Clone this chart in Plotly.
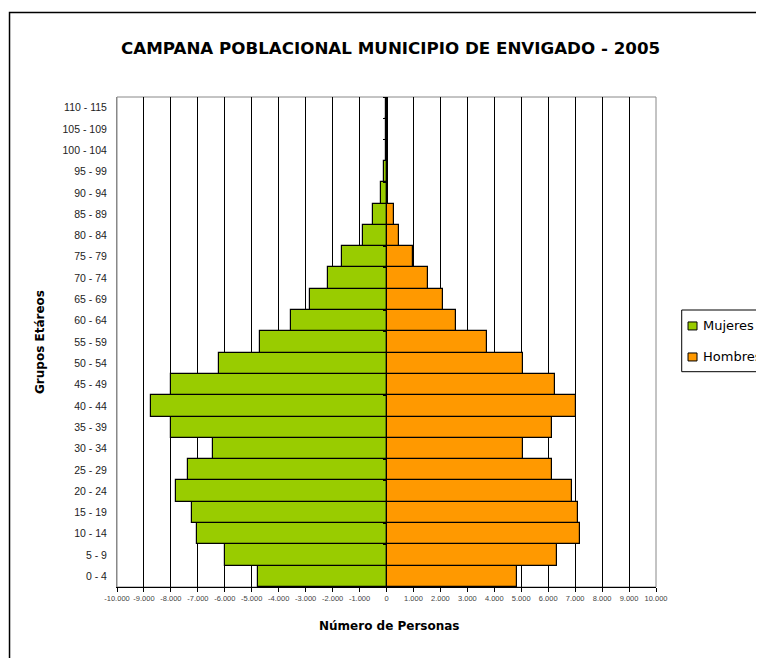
import plotly.graph_objects as go

grupos = ["0 - 4", "5 - 9", "10 - 14", "15 - 19", "20 - 24", "25 - 29", "30 - 34",
          "35 - 39", "40 - 44", "45 - 49", "50 - 54", "55 - 59", "60 - 64", "65 - 69",
          "70 - 74", "75 - 79", "80 - 84", "85 - 89", "90 - 94", "95 - 99",
          "100 - 104", "105 - 109", "110 - 115"]

mujeres = [4760, 5990, 7050, 7230, 7800, 7380, 6430, 8000, 8750, 8000, 6230, 4710,
           3550, 2830, 2170, 1640, 890, 505, 190, 100, 15, 5, 2]
hombres = [4860, 6320, 7170, 7090, 6900, 6140, 5060, 6140, 7040, 6270, 5060, 3720,
           2590, 2110, 1540, 1000, 480, 260, 60, 30, 5, 2, 1]

tick_vals = list(range(-10000, 10001, 1000))
tick_text = ["-10.000", "-9.000", "-8.000", "-7.000", "-6.000", "-5.000", "-4.000",
             "-3.000", "-2.000", "-1.000", "0", "1.000", "2.000", "3.000", "4.000",
             "5.000", "6.000", "7.000", "8.000", "9.000", "10.000"]

VERDE = "#99CC00"
NARANJA = "#FF9900"

fig = go.Figure()
fig.add_trace(go.Bar(
    y=grupos, x=[-v for v in mujeres], orientation="h", name="Mujeres",
    marker=dict(color=VERDE, line=dict(color="black", width=1.2)),
    yaxis="y", showlegend=False))
fig.add_trace(go.Bar(
    y=grupos, x=hombres, orientation="h", name="Hombres",
    marker=dict(color=NARANJA, line=dict(color="black", width=1.2)),
    yaxis="y2", showlegend=False))

fig.update_layout(
    width=756, height=650,
    margin=dict(l=109, r=108, t=89, b=71),
    paper_bgcolor="white", plot_bgcolor="white",
    bargap=0,
    xaxis=dict(range=[-10000, 10000], tickvals=tick_vals, ticktext=tick_text,
               showgrid=True, gridcolor="#000000", gridwidth=1,
               zeroline=True, zerolinecolor="black", zerolinewidth=2,
               showline=True, linecolor="black", linewidth=1.2,
               ticks="outside", ticklen=4, tickcolor="black",
               tickfont=dict(family="Liberation Sans", size=7.5, color="#444444")),
    yaxis=dict(categoryorder="array", categoryarray=grupos, range=[-0.5, 22.5],
               showgrid=False, zeroline=False, showline=True, linecolor="#888888",
               linewidth=1, ticks="", ticklabelstandoff=7,
               tickfont=dict(family="Liberation Sans", size=10.5, color="#222222")),
    yaxis2=dict(overlaying="y", anchor="free", position=0.5, side="left",
                categoryorder="array", categoryarray=grupos, range=[-0.5, 22.5],
                showgrid=False, zeroline=False, showline=False,
                ticks="outside", ticklen=4, tickcolor="black", tickson="boundaries",
                showticklabels=False),
    shapes=[
        dict(type="rect", xref="paper", yref="paper", x0=0, y0=0, x1=1, y1=1,
             line=dict(color="#888888", width=1), layer="below"),
        dict(type="rect", xref="paper", yref="paper", x0=-0.1994, y0=-0.2, x1=1.25, y1=1.1724,
             line=dict(color="black", width=1.5)),
        dict(type="rect", xref="paper", yref="paper", x0=1.0477, y0=0.4394, x1=1.4, y1=0.5653,
             line=dict(color="black", width=1)),
        dict(type="rect", xref="paper", yref="paper", x0=1.0594, y0=0.5246, x1=1.0761, y1=0.5409,
             fillcolor=VERDE, line=dict(color="black", width=1)),
        dict(type="rect", xref="paper", yref="paper", x0=1.0594, y0=0.4613, x1=1.0761, y1=0.4776,
             fillcolor=NARANJA, line=dict(color="black", width=1)),
    ],
    annotations=[
        dict(text="<b>CAMPANA POBLACIONAL MUNICIPIO DE ENVIGADO - 2005</b>", xref="paper", yref="paper",
             x=0.508, y=1.1, xanchor="center", yanchor="middle", showarrow=False,
             font=dict(family="DejaVu Sans", size=16.7, color="black")),
        dict(text="<b>Número de Personas</b>", xref="paper", yref="paper",
             x=0.505, y=-0.0796, xanchor="center", yanchor="middle", showarrow=False,
             font=dict(family="DejaVu Sans", size=12, color="black")),
        dict(text="<b>Grupos Etáreos</b>", xref="paper", yref="paper",
             x=-0.1429, y=0.5, xanchor="center", yanchor="middle", showarrow=False,
             textangle=-90, font=dict(family="DejaVu Sans", size=12, color="black")),
        dict(text="Mujeres", xref="paper", yref="paper", x=1.0843, y=0.5327,
             xanchor="left", yanchor="middle", showarrow=False,
             font=dict(family="DejaVu Sans", size=13, color="black")),
        dict(text="Hombres", xref="paper", yref="paper", x=1.0843, y=0.4694,
             xanchor="left", yanchor="middle", showarrow=False,
             font=dict(family="DejaVu Sans", size=13, color="black")),
    ],
)

fig.write_html("out.html")
